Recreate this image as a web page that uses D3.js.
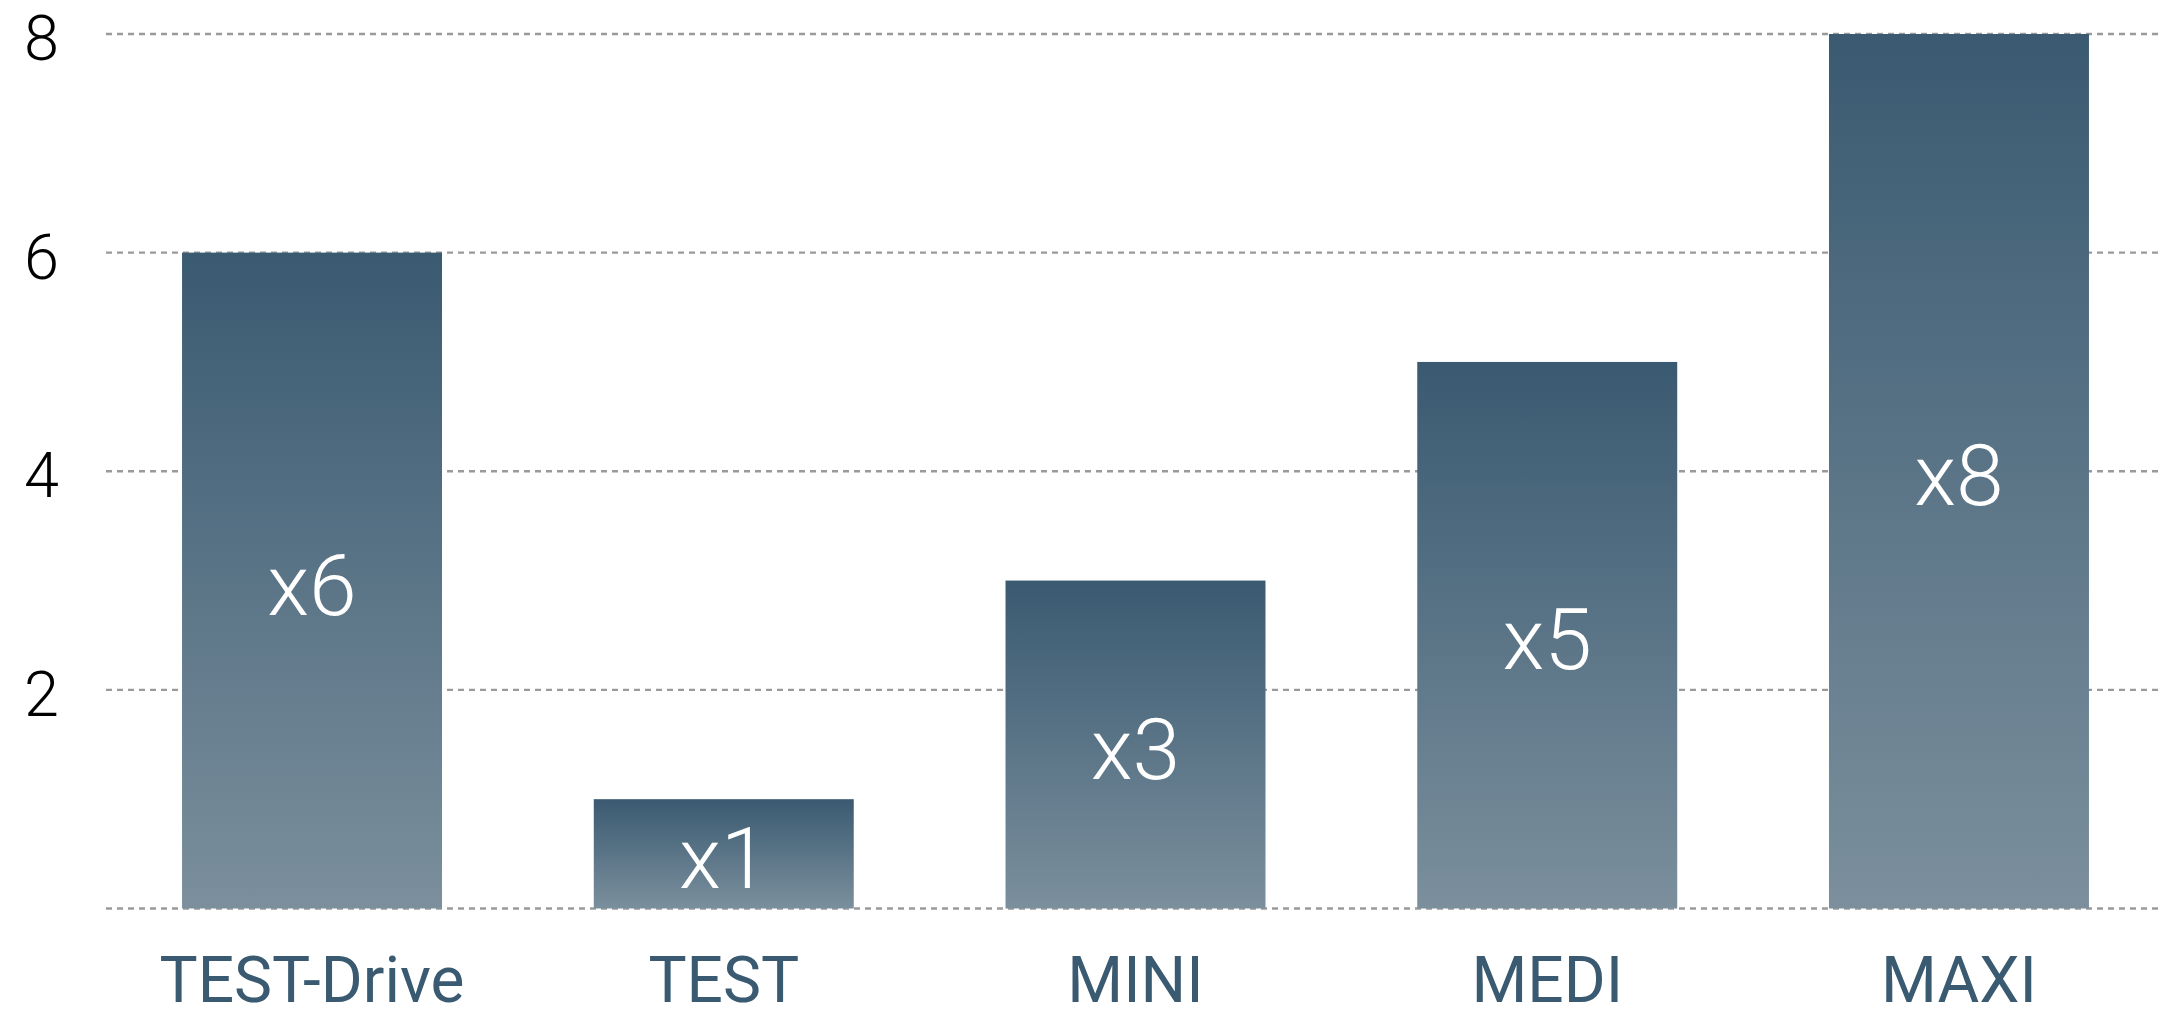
<!DOCTYPE html>
<html>
<head>
<meta charset="utf-8">
<script src="https://cdn.jsdelivr.net/npm/d3@7"></script>
<style>
  html, body { margin: 0; padding: 0; background: #fff; overflow: hidden; }
  svg { display: block; }
</style>
</head>
<body>
<svg id="chart" width="2181" height="1009"></svg>
<script>
const categories = ["TEST-Drive", "TEST", "MINI", "MEDI", "MAXI"];
const values = [6, 1, 3, 5, 8];
const barLabels = ["x6", "x1", "x3", "x5", "x8"];
const yTicks = [2, 4, 6, 8];
const gridTicks = [0, 2, 4, 6, 8];

const svg = d3.select("#chart");

const x = d3.scaleBand()
  .domain(categories)
  .range([108.5, 2162.5])
  .paddingInner(0.3686)
  .paddingOuter(0.1786);

const y = d3.scaleLinear()
  .domain([0, 8])
  .range([908.5, 34]);

// gradient
const defs = svg.append("defs");
const grad = defs.append("linearGradient")
  .attr("id", "barGrad")
  .attr("x1", 0).attr("y1", 0).attr("x2", 0).attr("y2", 1);
grad.append("stop").attr("offset", "0%").attr("stop-color", "#3a5a71");
grad.append("stop").attr("offset", "100%").attr("stop-color", "#7b8f9d");

// grid lines
svg.append("g").selectAll("line")
  .data(gridTicks)
  .join("line")
  .attr("x1", 106)
  .attr("x2", 2160)
  .attr("y1", d => y(d))
  .attr("y2", d => y(d))
  .attr("stroke", "#9a9a9a")
  .attr("stroke-width", 2.4)
  .attr("stroke-dasharray", "6,5");

// bars
svg.append("g").selectAll("rect")
  .data(values)
  .join("rect")
  .attr("x", (d, i) => x(categories[i]))
  .attr("width", x.bandwidth())
  .attr("y", d => y(d))
  .attr("height", d => y(0) - y(d))
  .attr("fill", "url(#barGrad)");

// bar labels
svg.append("g").selectAll("text")
  .data(values)
  .join("text")
  .attr("x", (d, i) => x(categories[i]) + x.bandwidth() / 2)
  .attr("y", d => (y(d) + y(0)) / 2 + 34)
  .attr("text-anchor", "middle")
  .attr("fill", "#ffffff")
  .style("font-family", "Roboto, 'Liberation Sans', sans-serif")
  .style("font-weight", 300)
  .style("font-size", "86px")
  .text((d, i) => barLabels[i]);

// y tick labels
svg.append("g").selectAll("text")
  .data(yTicks)
  .join("text")
  .attr("x", 59)
  .attr("y", d => y(d) + 26)
  .attr("text-anchor", "end")
  .attr("fill", "#000")
  .style("font-family", "Roboto, 'Liberation Sans', sans-serif")
  .style("font-weight", 300)
  .style("font-size", "63px")
  .text(d => d);

// x category labels
svg.append("g").selectAll("text")
  .data(categories)
  .join("text")
  .attr("x", d => x(d) + x.bandwidth() / 2)
  .attr("y", 1002)
  .attr("text-anchor", "middle")
  .attr("fill", "#3a5a71")
  .style("font-family", "Roboto, sans-serif")
  .style("font-weight", 400)
  .style("font-size", "64px")
  .text(d => d);
</script>
</body>
</html>
